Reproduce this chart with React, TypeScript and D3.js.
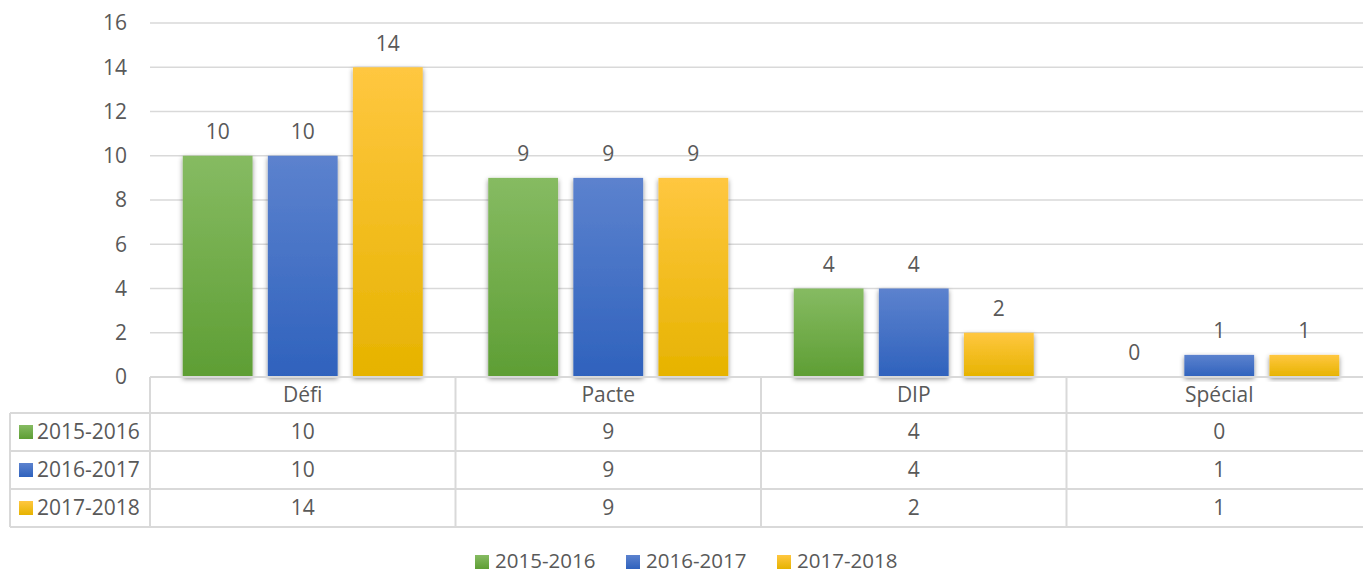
import React from "react";
import * as d3 from "d3";

const categories = ["Défi", "Pacte", "DIP", "Spécial"];
const seriesNames = ["2015-2016", "2016-2017", "2017-2018"];
const values2015 = [10, 9, 4, 0];
const values2016 = [10, 9, 4, 1];
const values2017 = [14, 9, 2, 1];
const yTicks = [0, 2, 4, 6, 8, 10, 12, 14, 16];

const seriesValues = [values2015, values2016, values2017];
const colorsTop = ["#86bb62", "#5c82ce", "#ffc740"];
const colorsBottom = ["#5e9e34", "#2f62bd", "#e6b300"];

const W = 1363;
const H = 574;
const FONT = "'Open Sans', 'Liberation Sans', sans-serif";
const TXT = "#595959";
const GRID = "#d9d9d9";

export default function App() {
  const plotLeft = 150;
  const plotRight = 1372;
  const y = d3.scaleLinear().domain([0, 16]).range([377, 23]);
  const x = d3.scaleBand<string>().domain(categories).range([plotLeft, plotRight]);
  const xInner = d3
    .scaleBand<string>()
    .domain(seriesNames)
    .range([0, x.bandwidth()])
    .paddingInner(0.18)
    .paddingOuter(0.385);

  const headerTop = 377;
  const rowTops = [413, 451, 489];
  const rowH = 38;
  const tableBottom = 527;
  const tableLeft = 10;

  return (
    <svg
      width={W}
      height={H}
      style={{ position: "absolute", left: 0, top: 0, background: "#fff" }}
      fontFamily={FONT}
    >
      <defs>
        {seriesNames.map((s, i) => (
          <linearGradient key={s} id={`g${i}`} x1="0" y1="0" x2="0" y2="1">
            <stop offset="0%" stopColor={colorsTop[i]} />
            <stop offset="100%" stopColor={colorsBottom[i]} />
          </linearGradient>
        ))}
        <filter id="sh" x="-30%" y="-10%" width="160%" height="130%">
          <feDropShadow dx="0" dy="2" stdDeviation="2.5" floodColor="#000" floodOpacity="0.45" />
        </filter>
      </defs>

      {/* gridlines */}
      {yTicks.map((t) =>
        t === 0 ? null : (
          <line key={t} x1={plotLeft} x2={W} y1={y(t)} y2={y(t)} stroke={GRID} strokeWidth={1.3} />
        )
      )}
      {/* y tick labels */}
      {yTicks.map((t) => (
        <text
          key={t}
          x={127}
          y={y(t)}
          dy="0.35em"
          textAnchor="end"
          fontSize={21}
          fill={TXT}
        >
          {t}
        </text>
      ))}

      {/* bars */}
      {categories.map((c, ci) =>
        seriesNames.map((s, si) => {
          const v = seriesValues[si][ci];
          const bx = (x(c) as number) + (xInner(s) as number);
          const bw = xInner.bandwidth();
          return (
            <g key={c + s}>
              {v > 0 && (
                <rect
                  x={bx}
                  y={y(v)}
                  width={bw}
                  height={y(0) - y(v)}
                  fill={`url(#g${si})`}
                  filter="url(#sh)"
                />
              )}
              <text
                x={bx + bw / 2}
                y={y(v) - 24}
                dy="0.35em"
                textAnchor="middle"
                fontSize={21}
                fill={TXT}
              >
                {v}
              </text>
            </g>
          );
        })
      )}

      {/* table */}
      <g stroke={GRID} strokeWidth={2} fill="none">
        <line x1={plotLeft} x2={W} y1={headerTop} y2={headerTop} />
        {rowTops.map((rt) => (
          <line key={rt} x1={tableLeft} x2={W} y1={rt} y2={rt} />
        ))}
        <line x1={tableLeft} x2={W} y1={tableBottom} y2={tableBottom} />
        <line x1={tableLeft} x2={tableLeft} y1={rowTops[0]} y2={tableBottom} />
        {categories.map((c) => (
          <line key={c} x1={x(c)} x2={x(c)} y1={headerTop} y2={tableBottom} />
        ))}
      </g>
      {categories.map((c) => (
        <text
          key={c}
          x={(x(c) as number) + x.bandwidth() / 2}
          y={(headerTop + rowTops[0]) / 2}
          dy="0.35em"
          textAnchor="middle"
          fontSize={21}
          fill={TXT}
        >
          {c}
        </text>
      ))}
      {seriesNames.map((s, si) => (
        <g key={s}>
          <rect x={19} y={rowTops[si] + rowH / 2 - 7} width={14} height={14} fill={`url(#g${si})`} />
          <text x={37} y={rowTops[si] + rowH / 2} dy="0.35em" fontSize={21} fill={TXT}>
            {s}
          </text>
          {categories.map((c, ci) => (
            <text
              key={c}
              x={(x(c) as number) + x.bandwidth() / 2}
              y={rowTops[si] + rowH / 2}
              dy="0.35em"
              textAnchor="middle"
              fontSize={21}
              fill={TXT}
            >
              {seriesValues[si][ci]}
            </text>
          ))}
        </g>
      ))}

      {/* legend */}
      {seriesNames.map((s, si) => {
        const lx = 475 + si * 151;
        return (
          <g key={s}>
            <rect x={lx} y={555} width={14} height={14} fill={`url(#g${si})`} />
            <text x={lx + 20} y={561} dy="0.35em" fontSize={20.5} fill={TXT}>
              {s}
            </text>
          </g>
        );
      })}
    </svg>
  );
}
